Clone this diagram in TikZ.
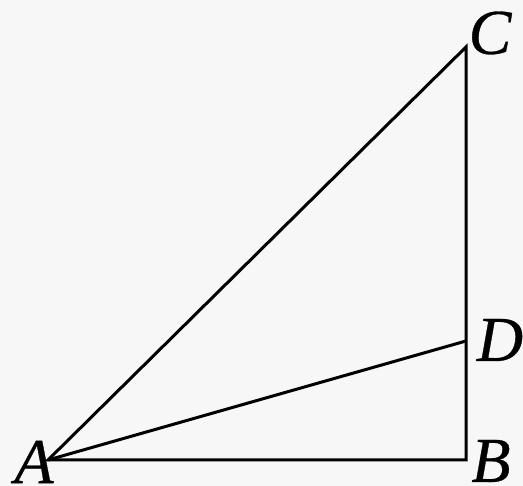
\documentclass[tikz,border=0pt]{standalone}
\usepackage{fontspec}
\setmainfont{Liberation Serif}
\newfontfamily\lblfont[FakeBold=0.5]{Liberation Serif}
\begin{document}
\begin{tikzpicture}[x=1pt,y=1pt,
  seg/.style={line width=3pt,line join=miter},
  lbl/.style={font=\fontsize{64}{64}\selectfont\lblfont\itshape,inner sep=0pt,anchor=center}]
\fill[white!97!black] (0,0) rectangle (523,486);
\useasboundingbox (0,0) rectangle (523,486);
\coordinate (A) at (48,26);
\coordinate (B) at (466,26);
\coordinate (C) at (466,439);
\coordinate (D) at (466,145);
\draw[seg] (A) -- (B) -- (C) -- cycle;
\draw[seg] (A) -- (D);
\node[lbl] (la) at (34,24) {A};
\node[lbl] (lb) at (491,25) {B};
\node[lbl] (lc) at (490,453) {C};
\node[lbl] (ld) at (500,146) {D};
\end{tikzpicture}
\end{document}
